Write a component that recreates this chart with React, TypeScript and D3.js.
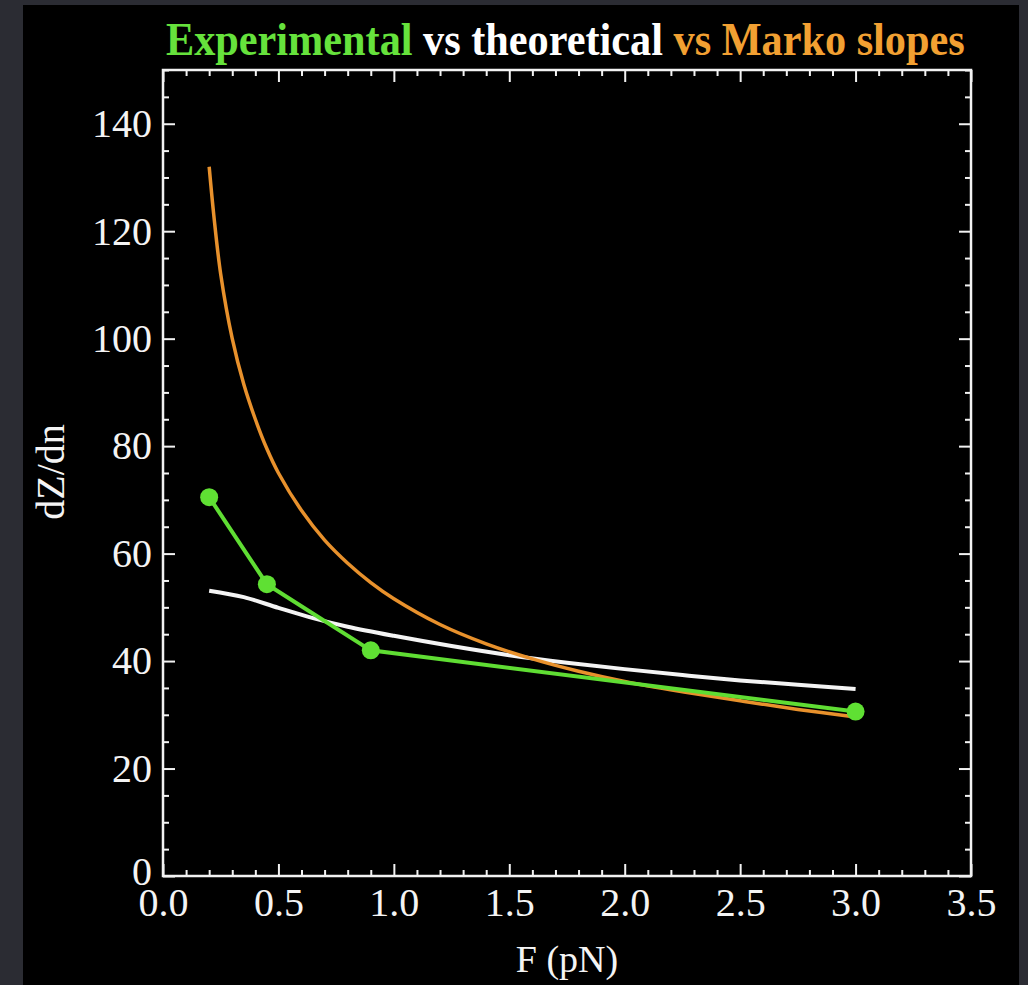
import { useEffect, useRef } from 'react';
import * as d3 from 'd3';

// experimental points
const expF = [0.2, 0.45, 0.9, 3.0];
const expSlope = [70.5, 54.3, 42.0, 30.6];

// theoretical curve
const theoF = [0.2, 0.35, 0.5, 0.65, 0.8, 1.0, 1.25, 1.5, 1.75, 2.0, 2.25, 2.5, 2.75, 3.0];
const theoSlope = [53.1, 51.9, 49.9, 48.0, 46.4, 44.7, 42.8, 41.1, 39.7, 38.5, 37.4, 36.4, 35.6, 34.8];

// Marko curve
const markoF = [0.2, 0.22, 0.25, 0.3, 0.35, 0.4, 0.45, 0.5, 0.6, 0.7, 0.8, 0.9, 1.0, 1.2, 1.4, 1.6, 1.8, 2.0, 2.25, 2.5, 2.75, 3.0];
const markoSlope = [132, 123, 112, 100, 91.5, 85, 79.5, 75, 68, 62.5, 58.2, 54.6, 51.6, 46.8, 43.2, 40.4, 38.1, 36.2, 34.3, 32.6, 31.0, 29.6];

const xMajor = [0, 0.5, 1.0, 1.5, 2.0, 2.5, 3.0, 3.5];
const yMajor = [0, 20, 40, 60, 80, 100, 120, 140];

const titleParts = [
  { text: 'Experimental', color: '#66e23c' },
  { text: ' vs theoretical', color: '#ffffff' },
  { text: ' vs Marko slopes', color: '#f2a032' },
];

const W = 1028;
const H = 985;
const margin = { left: 163, right: 57, top: 70, bottom: 109 };
const serif = '"Liberation Serif", "DejaVu Serif", serif';

function App() {
  const svgRef = useRef<SVGSVGElement>(null);

  useEffect(() => {
    const svg = d3.select(svgRef.current);
    svg.selectAll('*').remove();

    const iw = W - margin.left - margin.right;
    const ih = H - margin.top - margin.bottom;

    const x = d3.scaleLinear().domain([0, 3.5]).range([0, iw]);
    const y = d3.scaleLinear().domain([0, 150]).range([ih, 0]);

    svg.append('rect').attr('width', W).attr('height', H).attr('fill', '#2b2c33');
    svg.append('rect').attr('x', 23).attr('y', 5).attr('width', 996).attr('height', H - 5).attr('fill', '#000');

    // title: measured, then squeezed to the width of the original
    const title = svg.append('text')
      .attr('font-family', serif)
      .attr('font-size', 47)
      .attr('font-weight', 'bold');
    titleParts.forEach(p => {
      title.append('tspan').attr('fill', p.color).attr('xml:space', 'preserve').text(p.text);
    });
    const tLen = (title.node() as SVGTextElement).getComputedTextLength() || 799;
    title.attr('transform', `translate(166,55) scale(${799 / tLen},1)`);

    const g = svg.append('g').attr('transform', `translate(${margin.left},${margin.top})`);

    const xMinor = d3.range(0, 3.5001, 0.1).filter(v => Math.abs(v * 2 - Math.round(v * 2)) > 1e-6);
    const yMinor = d3.range(0, 150.001, 5).filter(v => v % 20 !== 0);

    const styleAxis = (sel: any) => {
      sel.select('.domain').remove();
      sel.selectAll('line').attr('stroke', '#f2f2f2').attr('stroke-width', 2);
      sel.selectAll('text')
        .attr('fill', '#f4f4f4')
        .attr('font-family', serif)
        .attr('font-size', 40);
    };

    // bottom & top
    g.append('g').attr('transform', `translate(0,${ih})`)
      .call(d3.axisBottom(x).tickValues(xMajor).tickSize(-12).tickPadding(12).tickFormat(d3.format('.1f')))
      .call(styleAxis);
    g.append('g').attr('transform', `translate(0,${ih})`)
      .call(d3.axisBottom(x).tickValues(xMinor).tickSize(-6).tickFormat(() => ''))
      .call(styleAxis);
    g.append('g')
      .call(d3.axisTop(x).tickValues(xMajor).tickSize(-12).tickFormat(() => ''))
      .call(styleAxis);
    g.append('g')
      .call(d3.axisTop(x).tickValues(xMinor).tickSize(-6).tickFormat(() => ''))
      .call(styleAxis);

    // left & right
    const yAxisG = g.append('g')
      .call(d3.axisLeft(y).tickValues(yMajor).tickSize(-12).tickPadding(11).tickFormat(d3.format('d')))
      .call(styleAxis);
    yAxisG.selectAll('.tick text').filter((d: any) => d === 0).attr('dy', '0.2em');
    g.append('g')
      .call(d3.axisLeft(y).tickValues(yMinor).tickSize(-6).tickFormat(() => ''))
      .call(styleAxis);
    g.append('g').attr('transform', `translate(${iw},0)`)
      .call(d3.axisRight(y).tickValues(yMajor).tickSize(-12).tickFormat(() => ''))
      .call(styleAxis);
    g.append('g').attr('transform', `translate(${iw},0)`)
      .call(d3.axisRight(y).tickValues(yMinor).tickSize(-6).tickFormat(() => ''))
      .call(styleAxis);

    g.append('rect')
      .attr('width', iw).attr('height', ih)
      .attr('fill', 'none').attr('stroke', '#f2f2f2').attr('stroke-width', 2.5);

    // axis labels
    svg.append('text')
      .attr('x', margin.left + x(1.75))
      .attr('y', 972)
      .attr('text-anchor', 'middle')
      .attr('fill', '#f4f4f4')
      .attr('font-family', serif)
      .attr('font-size', 38)
      .text('F (pN)');

    svg.append('text')
      .attr('transform', `translate(64,472) rotate(-90)`)
      .attr('text-anchor', 'middle')
      .attr('fill', '#f4f4f4')
      .attr('font-family', serif)
      .attr('font-size', 40)
      .text('dZ/dn');

    // series
    const smooth = d3.line().curve(d3.curveCatmullRom.alpha(0.5));

    const theoPts = theoF.map((f, i) => [x(f), y(theoSlope[i])] as [number, number]);
    g.append('path')
      .attr('d', smooth(theoPts))
      .attr('fill', 'none').attr('stroke', '#f4f4f4').attr('stroke-width', 4);

    const markoPts = markoF.map((f, i) => [x(f), y(markoSlope[i])] as [number, number]);
    g.append('path')
      .attr('d', smooth(markoPts))
      .attr('fill', 'none').attr('stroke', '#e8912c').attr('stroke-width', 3.5);

    const expPts = expF.map((f, i) => [x(f), y(expSlope[i])] as [number, number]);
    g.append('path')
      .attr('d', d3.line()(expPts))
      .attr('fill', 'none').attr('stroke', '#5fdd33').attr('stroke-width', 4);
    g.selectAll('circle.exp')
      .data(expPts)
      .enter().append('circle')
      .attr('class', 'exp')
      .attr('cx', d => d[0]).attr('cy', d => d[1])
      .attr('r', 9)
      .attr('fill', '#5fe033');
  }, []);

  return (
    <>
      <style>{`body{margin:0;background:#2b2c33}`}</style>
      <svg ref={svgRef} width={W} height={H} style={{ display: 'block' }}></svg>
    </>
  );
}

export default App;
